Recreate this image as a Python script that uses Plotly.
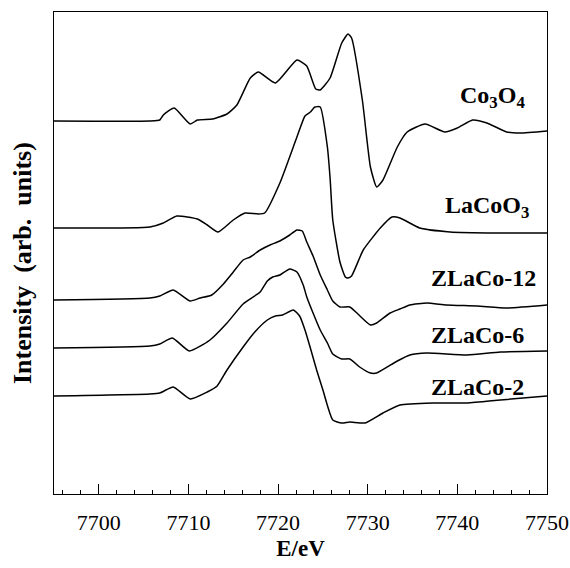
import plotly.graph_objects as go

# ---- data (energy in eV, intensity in arbitrary units, offset stacked) ----
co3o4_E = [7695.0, 7705.7, 7706.8, 7707.2, 7708.4, 7710.2, 7711.0, 7712.7, 7714.3, 7715.4,
           7716.9, 7717.8, 7719.7, 7722.1, 7723.2, 7724.2, 7724.7, 7725.8, 7727.1, 7727.8,
           7728.2, 7729.4, 7730.3, 7731.0, 7731.7, 7733.3, 7734.4, 7736.4, 7738.6, 7740.0,
           7741.7, 7743.3, 7745.5, 7747.0, 7750.0]
co3o4_I = [3.73, 3.73, 3.74, 3.79, 3.86, 3.70, 3.74, 3.75, 3.80, 3.89,
           4.16, 4.22, 4.11, 4.34, 4.28, 4.05, 4.04, 4.16, 4.51, 4.60,
           4.56, 3.94, 3.27, 3.07, 3.14, 3.47, 3.62, 3.70, 3.62, 3.66,
           3.74, 3.71, 3.62, 3.61, 3.63]

lacoo3_E = [7695.0, 7705.7, 7707.2, 7708.7, 7711.0, 7712.1, 7713.3, 7715.0, 7716.3, 7717.8,
            7718.5, 7720.2, 7722.1, 7723.0, 7723.6, 7724.1, 7724.7, 7725.5, 7725.8, 7726.1,
            7726.9, 7727.5, 7727.8, 7728.2, 7729.5, 7731.4, 7732.7, 7733.6, 7735.8, 7739.2,
            7744.4, 7750.0]
lacoo3_I = [2.66, 2.67, 2.71, 2.78, 2.75, 2.69, 2.62, 2.74, 2.81, 2.80,
            2.81, 3.11, 3.57, 3.78, 3.82, 3.87, 3.87, 3.47, 3.16, 2.74,
            2.32, 2.17, 2.16, 2.18, 2.44, 2.66, 2.77, 2.76, 2.66, 2.62,
            2.61, 2.61]

zlaco12_E = [7695.0, 7705.7, 7706.8, 7708.3, 7710.2, 7711.3, 7712.6, 7713.9, 7715.0, 7716.1,
             7716.9, 7718.0, 7719.1, 7720.2, 7721.3, 7722.1, 7722.7, 7723.2, 7723.9, 7724.7,
             7725.5, 7726.1, 7726.9, 7728.0, 7728.9, 7730.3, 7731.0, 7732.5, 7733.6, 7734.7,
             7736.6, 7738.8, 7742.2, 7745.5, 7750.0]
zlaco12_I = [1.94, 1.96, 1.98, 2.04, 1.93, 1.96, 1.99, 2.10, 2.22, 2.34,
             2.37, 2.44, 2.49, 2.53, 2.59, 2.64, 2.63, 2.52, 2.38, 2.19,
             2.04, 1.93, 1.87, 1.87, 1.80, 1.69, 1.71, 1.81, 1.85, 1.89,
             1.91, 1.89, 1.88, 1.86, 1.89]

zlaco6_E = [7695.0, 7705.7, 7706.8, 7708.2, 7710.1, 7712.4, 7714.3, 7716.1, 7718.0, 7718.8,
            7719.4, 7720.2, 7721.3, 7722.1, 7722.8, 7723.2, 7723.9, 7724.7, 7725.5, 7726.1,
            7727.1, 7728.0, 7729.1, 7730.3, 7731.0, 7733.3, 7734.7, 7736.6, 7741.1, 7744.8,
            7750.0]
zlaco6_I = [1.46, 1.48, 1.50, 1.56, 1.43, 1.54, 1.71, 1.90, 2.02, 2.13,
            2.17, 2.19, 2.25, 2.22, 2.09, 1.97, 1.81, 1.64, 1.51, 1.40,
            1.35, 1.35, 1.27, 1.21, 1.21, 1.33, 1.39, 1.41, 1.39, 1.42,
            1.43]

zlaco2_E = [7695.0, 7705.7, 7706.8, 7708.3, 7710.2, 7712.1, 7713.2, 7714.3, 7716.1, 7717.4,
            7718.8, 7719.7, 7720.5, 7721.7, 7722.4, 7723.0, 7723.6, 7724.3, 7725.0, 7726.1,
            7727.1, 7728.0, 7729.7, 7731.7, 7733.6, 7737.3, 7741.1, 7744.8, 7750.0]
zlaco2_I = [0.98, 1.00, 1.01, 1.07, 0.95, 1.02, 1.08, 1.24, 1.47, 1.62,
            1.74, 1.78, 1.79, 1.84, 1.78, 1.64, 1.46, 1.24, 1.04, 0.74,
            0.71, 0.72, 0.71, 0.81, 0.89, 0.91, 0.91, 0.94, 0.98]

series = [
    ("Co<sub>3</sub>O<sub>4</sub>", co3o4_E, co3o4_I, 7740.1, 3.97),
    ("LaCoO<sub>3</sub>", lacoo3_E, lacoo3_I, 7738.4, 2.87),
    ("ZLaCo-12", zlaco12_E, zlaco12_I, 7736.8, 2.16),
    ("ZLaCo-6", zlaco6_E, zlaco6_I, 7736.8, 1.59),
    ("ZLaCo-2", zlaco2_E, zlaco2_I, 7736.8, 1.07),
]

x_ticks = [7700, 7710, 7720, 7730, 7740, 7750]

serif = "Liberation Serif, Times New Roman, serif"

fig = go.Figure()
for name, E, I, lx, ly in series:
    fig.add_trace(go.Scatter(x=E, y=I, mode="lines", name=name,
                             line=dict(color="black", width=1.5, shape="spline", smoothing=0.5),
                             showlegend=False, hoverinfo="skip"))
    fig.add_annotation(x=lx, y=ly, xref="x", yref="y", text="<b>" + name + "</b>",
                       showarrow=False, xanchor="left", yanchor="middle",
                       font=dict(family=serif, size=24, color="black"))

# y-axis title as a rotated annotation (placed like the reference)
fig.add_annotation(x=-0.064, y=0.48, xref="paper", yref="paper",
                   text="<b>Intensity  (arb.  units)</b>", textangle=-90,
                   showarrow=False, xanchor="center", yanchor="middle",
                   font=dict(family=serif, size=26, color="black"))

fig.update_layout(
    width=570, height=568,
    margin=dict(l=54, r=23, t=12, b=74, autoexpand=False),
    paper_bgcolor="white", plot_bgcolor="white",
    font=dict(family=serif, color="black"),
)
fig.update_xaxes(
    range=[7695, 7750], tickvals=x_ticks, ticktext=[str(v) for v in x_ticks],
    ticks="inside", ticklen=10, tickwidth=1, tickcolor="black",
    minor=dict(ticks="inside", ticklen=4, dtick=2, tickcolor="black", tickwidth=1),
    showline=True, linecolor="black", linewidth=1.2, mirror=True,
    showgrid=False, zeroline=False,
    tickfont=dict(family=serif, size=22, color="black"),
    ticklabelstandoff=8,
    title=dict(text="<b>E/eV</b>", font=dict(family=serif, size=23, color="black"), standoff=6),
)
fig.update_yaxes(
    range=[0, 4.82], showticklabels=False, ticks="",
    showline=True, linecolor="black", linewidth=1.2, mirror=True,
    showgrid=False, zeroline=False,
)

fig.write_html("out.html", config={"displayModeBar": False},
               post_script="document.body.style.margin='0';document.body.style.overflow='hidden';")
